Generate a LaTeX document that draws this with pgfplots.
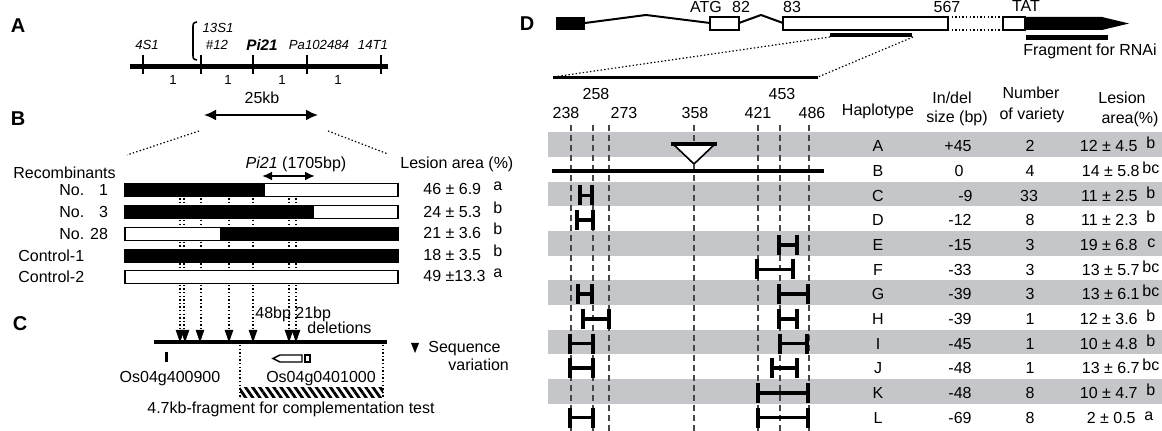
\documentclass[border=0pt]{standalone}
\usepackage{fontspec}
\setmainfont{Liberation Sans}
\usepackage{pgfplots}
\pgfplotsset{compat=1.18}
\usetikzlibrary{arrows.meta,patterns.meta}
\definecolor{band}{RGB}{197,198,202}
\definecolor{dsh}{RGB}{70,70,70}
\begin{document}
\begin{tikzpicture}[
  t/.style={font=\fontsize{8}{9.6}\selectfont, inner sep=0pt, text height=5.7pt, text depth=0pt},
  ti/.style={font=\fontsize{6.6}{8}\selectfont\itshape, inner sep=0pt, text height=4.75pt, text depth=0pt},
  tn/.style={font=\fontsize{6.6}{8}\selectfont, inner sep=0pt, text height=4.75pt, text depth=0pt},
  pl/.style={font=\fontsize{10}{12}\selectfont\bfseries, inner sep=0pt, text height=7.2pt, text depth=0pt},
  dt/.style={line width=0.7pt, dash pattern=on 0.7pt off 1.1pt},
  dv/.style={dsh, line width=0.6pt, dash pattern=on 3pt off 2pt},
  hap/.style={black, line width=1.8pt, mark=|, mark size=5pt, mark options={line width=1.8pt}},
]
\begin{axis}[x=0.5pt,y=0.5pt,y dir=reverse,xmin=0,xmax=1162,ymin=0,ymax=431,
  hide axis, clip=true]
\path (0,0) rectangle (1162,431);
% ---------- panel letters
\node[pl] at (18,25) {A};
\node[pl] at (18,118) {B};
\node[pl] at (20,323) {C};
\node[pl] at (527,23) {D};
% ---------- panel A
\draw[line width=2.5pt] (130,67) -- (388,67);
\draw[line width=1pt] (143,55)--(143,74) (201,55)--(201,74) (253,55)--(253,74) (307,55)--(307,74) (381,55)--(381,74);
\node[ti] at (147,45) {4S1};
\node[ti] at (218,28) {13S1};
\node[ti] at (217,45) {\#12};
\node[font=\fontsize{7.6}{9}\selectfont\bfseries\itshape, inner sep=0pt, text height=5.45pt, text depth=0pt] at (262,45) {Pi21};
\node[ti] at (319,45) {Pa102484};
\node[ti] at (373,45) {14T1};
\draw[line width=0.8pt] (197,22) .. controls (193,23) .. (193,28) -- (193,54) .. controls (193,59) .. (197,60);
\node[tn] at (173,80) {1};
\node[tn] at (228,80) {1};
\node[tn] at (282,80) {1};
\node[tn] at (338,80) {1};
\node[t] at (262,98) {25kb};
\draw[line width=1pt,{Latex[length=6pt,width=5.5pt]}-{Latex[length=6pt,width=5.5pt]}] (204,115)--(318,115);
\draw[dt,line width=0.6pt] (199,131)--(127,155) (328,131)--(388,154);
% ---------- panel B
\node[t,anchor=west] at (13,173) {Recombinants};
\node[t] at (296,163) {\textit{Pi21} (1705bp)};
\draw[line width=1pt,{Latex[length=5pt,width=4.5pt]}-{Latex[length=5pt,width=4.5pt]}] (262,176)--(315,176);
\node[t,anchor=west] at (400,163) {Lesion area (\%)};
\draw[dt] (180,184)--(180,331) (184,184)--(184,331) (201,184)--(201,331) (229,184)--(229,331)
          (253,184)--(253,331) (289,184)--(289,331) (296,184)--(296,331);
% bars (black = one parent, white = other)
\addplot[fill=white, draw=black, line width=0.6pt] coordinates {(125,183.5) (398,183.5) (398,196.5) (125,196.5)} -- cycle;
\addplot[fill=black, draw=black, line width=0.6pt] coordinates {(125,183.5) (264,183.5) (264,196.5) (125,196.5)} -- cycle;
\addplot[fill=white, draw=black, line width=0.6pt] coordinates {(125,205.5) (398,205.5) (398,218.5) (125,218.5)} -- cycle;
\addplot[fill=black, draw=black, line width=0.6pt] coordinates {(125,205.5) (313,205.5) (313,218.5) (125,218.5)} -- cycle;
\addplot[fill=white, draw=black, line width=0.6pt] coordinates {(125,227.5) (398,227.5) (398,240.5) (125,240.5)} -- cycle;
\addplot[fill=black, draw=black, line width=0.6pt] coordinates {(221,227.5) (398,227.5) (398,240.5) (221,240.5)} -- cycle;
\addplot[fill=black, draw=black, line width=0.6pt] coordinates {(125,249.5) (398,249.5) (398,262.5) (125,262.5)} -- cycle;
\addplot[fill=white, draw=black, line width=0.6pt] coordinates {(125,270.5) (398,270.5) (398,283.5) (125,283.5)} -- cycle;
\node[t,anchor=west] at (59,190) {No. \phantom{2}1};
\node[t,anchor=west] at (59,212) {No. \phantom{2}3};
\node[t,anchor=west] at (59,234) {No. 28};
\node[t,anchor=west] at (18,256) {Control-1};
\node[t,anchor=west] at (18,277) {Control-2};
\node[t,anchor=west] at (423,189) {46 ± 6.9};
\node[t,anchor=west] at (423,212) {24 ± 5.3};
\node[t,anchor=west] at (423,233) {21 ± 3.6};
\node[t,anchor=west] at (423,255) {18 ± 3.5};
\node[t,anchor=west] at (423,276) {49 ±13.3};
\node[t,anchor=west] at (493,185) {a};
\node[t,anchor=west] at (493,208) {b};
\node[t,anchor=west] at (493,229) {b};
\node[t,anchor=west] at (493,251) {b};
\node[t,anchor=west] at (493,272) {a};
% ---------- panel C
\addplot[only marks, mark=triangle*, mark size=3.6pt, mark options={rotate=180, xscale=0.6, fill=black, draw=black}]
  coordinates {(180,334) (185,334) (200,334) (229,334) (253,334) (289,334) (296,334)};
\node[t,anchor=west] at (255,313) {48bp 21bp};
\node[t,anchor=west] at (307,328) {deletions};
\draw[line width=2pt] (154,342)--(387,342);
\fill (164.5,352) rectangle (167.5,362);
\draw[line width=0.7pt, fill=white] (273,358.5)--(280,355)--(302,355)--(302,362)--(280,362)--cycle;
\draw[line width=0.7pt, fill=white] (305,355) rectangle (310,362);
\node[t] at (170,377) {Os04g400900};
\node[t] at (321,377) {Os04g0401000};
\draw[dt] (240,345)--(240,398) (383,345)--(383,398);
\path[pattern={Lines[angle=-55,distance=2.9pt,line width=1.4pt]}] (240,388) rectangle (383,398);
\node[t] at (291,408) {4.7kb-fragment for complementation test};
\fill (411,343)--(419,343)--(415,353)--cycle;
\node[t,anchor=west] at (428,347) {Sequence};
\node[t,anchor=west] at (448,365) {variation};
% ---------- panel D : gene structure
\fill[black] (556,17) rectangle (585,30);
\draw[line width=1pt] (585,23)--(646,15)--(710,23);
\draw[line width=1pt, fill=white] (710,17) rectangle (739,30);
\draw[line width=1pt] (739,23)--(761,15)--(783,23);
\draw[line width=1pt, fill=white] (783,17) rectangle (948,30);
\draw[dt] (948,17)--(1003,17) (948,30)--(1003,30);
\draw[line width=1pt, fill=white] (1003,17) rectangle (1025,30);
\fill[black] (1025,17)--(1102,17)--(1129,23.5)--(1102,30)--(1025,30)--cycle;
\node[t] at (706,7) {ATG};
\node[t] at (741,7) {82};
\node[t] at (792,7) {83};
\node[t] at (947,7) {567};
\node[t] at (1026,6) {TAT};
\draw[line width=1.7pt] (830,35)--(912,35);
\draw[line width=2.5pt] (1026,37.5)--(1108,37.5);
\node[t] at (1090,50) {Fragment for RNAi};
\draw[dt,line width=0.6pt] (830,37)--(553,77) (913,37)--(818,77);
\draw[line width=1.5pt] (553,78)--(818,78);
% ---------- panel D : haplotype table
\fill[band] (548,132.2) rectangle (1162,156.9);
\fill[band] (548,181.6) rectangle (1162,206.3);
\fill[band] (548,231.0) rectangle (1162,255.7);
\fill[band] (548,280.4) rectangle (1162,305.1);
\fill[band] (548,329.8) rectangle (1162,354.5);
\fill[band] (548,379.2) rectangle (1162,403.9);
\node[t] at (596,93.5) {258};
\node[t] at (782,93.5) {453};
\node[t] at (566,112.5) {238};
\node[t] at (624,112.5) {273};
\node[t] at (695,112.5) {358};
\node[t] at (758,112.5) {421};
\node[t] at (812,112.5) {486};
\draw[dv] (571,125)--(571,431) (593,125)--(593,431) (609,125)--(609,431) (694,125)--(694,431)
          (758,125)--(758,431) (780,125)--(780,431) (809,125)--(809,431);
% haplotype A: insertion, B: reference
\draw[line width=0.8pt, fill=white] (673,144)--(715,144)--(694,164)--cycle;
\draw[line width=1.7pt] (671,144)--(717,144);
\addplot[black, line width=2pt] coordinates {(552,170.7) (824,170.7)};
% deletions
\addplot[hap] coordinates {(580,195.4) (592,195.4)};
\addplot[hap] coordinates {(577,220.1) (593,220.1)};
\addplot[hap] coordinates {(779,244.8) (797,244.8)};
\addplot[hap] coordinates {(757,269.5) (793,269.5)};
\addplot[hap] coordinates {(578,294.2) (592,294.2)};
\addplot[hap] coordinates {(779,294.2) (808,294.2)};
\addplot[hap] coordinates {(583,318.9) (609,318.9)};
\addplot[hap] coordinates {(779,318.9) (797,318.9)};
\addplot[hap] coordinates {(570,343.6) (593,343.6)};
\addplot[hap] coordinates {(780,343.6) (807,343.6)};
\addplot[hap] coordinates {(570,368.3) (593,368.3)};
\addplot[hap] coordinates {(772,368.3) (797,368.3)};
\addplot[hap] coordinates {(758,393.0) (808,393.0)};
\addplot[hap] coordinates {(570,417.7) (593,417.7)};
\addplot[hap] coordinates {(758,417.7) (808,417.7)};
% table header
\node[t] at (878,110) {Haplotype};
\node[t] at (952,98) {In/del};
\node[t] at (957,117) {size (bp)};
\node[t] at (1031,92.5) {Number};
\node[t] at (1032,113.5) {of variety};
\node[t] at (1122,97.5) {Lesion};
\node[t] at (1130,118) {area(\%)};
% table rows
\node[t] at (878,146.0) {A};  \node[t,anchor=east] at (972,146.0) {+45}; \node[t] at (1030,146.0) {2};  \node[t,anchor=east] at (1138,146.0) {12 ± 4.5}; \node[t,anchor=west] at (1146,143.0) {b};
\node[t] at (878,170.7) {B};  \node[t] at (959,170.7) {0};               \node[t] at (1030,170.7) {4};  \node[t,anchor=east] at (1140,170.7) {14 ± 5.8}; \node[t,anchor=west] at (1142,167.7) {bc};
\node[t] at (878,195.4) {C};  \node[t,anchor=east] at (973,195.4) {-9};  \node[t] at (1029,195.4) {33}; \node[t,anchor=east] at (1138,195.4) {11 ± 2.5}; \node[t,anchor=west] at (1146,192.4) {b};
\node[t] at (878,220.1) {D};  \node[t,anchor=east] at (972,220.1) {-12}; \node[t] at (1030,220.1) {8};  \node[t,anchor=east] at (1138,220.1) {11 ± 2.3}; \node[t,anchor=west] at (1146,217.1) {b};
\node[t] at (878,244.8) {E};  \node[t,anchor=east] at (972,244.8) {-15}; \node[t] at (1030,244.8) {3};  \node[t,anchor=east] at (1138,244.8) {19 ± 6.8}; \node[t,anchor=west] at (1147,241.8) {c};
\node[t] at (878,269.5) {F};  \node[t,anchor=east] at (972,269.5) {-33}; \node[t] at (1030,269.5) {3};  \node[t,anchor=east] at (1140,269.5) {13 ± 5.7}; \node[t,anchor=west] at (1142,266.5) {bc};
\node[t] at (878,294.2) {G};  \node[t,anchor=east] at (972,294.2) {-39}; \node[t] at (1030,294.2) {3};  \node[t,anchor=east] at (1140,294.2) {13 ± 6.1}; \node[t,anchor=west] at (1142,291.2) {bc};
\node[t] at (878,318.9) {H};  \node[t,anchor=east] at (972,318.9) {-39}; \node[t] at (1030,318.9) {1};  \node[t,anchor=east] at (1138,318.9) {12 ± 3.6}; \node[t,anchor=west] at (1146,315.9) {b};
\node[t] at (878,343.6) {I};  \node[t,anchor=east] at (972,343.6) {-45}; \node[t] at (1030,343.6) {1};  \node[t,anchor=east] at (1138,343.6) {10 ± 4.8}; \node[t,anchor=west] at (1146,340.6) {b};
\node[t] at (878,368.3) {J};  \node[t,anchor=east] at (972,368.3) {-48}; \node[t] at (1030,368.3) {1};  \node[t,anchor=east] at (1140,368.3) {13 ± 6.7}; \node[t,anchor=west] at (1142,365.3) {bc};
\node[t] at (878,393.0) {K};  \node[t,anchor=east] at (972,393.0) {-48}; \node[t] at (1030,393.0) {8};  \node[t,anchor=east] at (1138,393.0) {10 ± 4.7}; \node[t,anchor=west] at (1146,390.0) {b};
\node[t] at (878,417.7) {L};  \node[t,anchor=east] at (972,417.7) {-69}; \node[t] at (1030,417.7) {8};  \node[t,anchor=east] at (1136,417.7) {2 ± 0.5};  \node[t,anchor=west] at (1144,414.7) {a};
\end{axis}
\end{tikzpicture}
\end{document}
